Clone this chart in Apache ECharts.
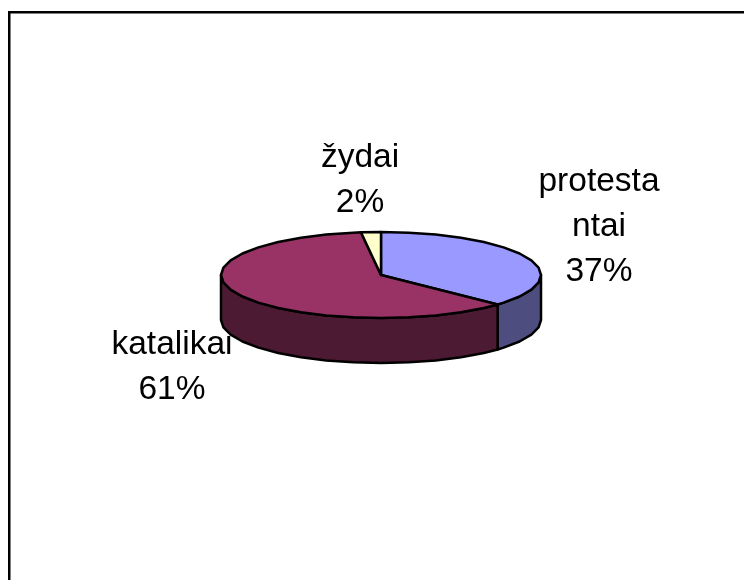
<!DOCTYPE html>
<html>
<head>
<meta charset="utf-8">
<style>
    html, body { margin: 0; padding: 0; background: #fff; }
    #chart { width: 744px; height: 580px; }
</style>
<script src="https://cdn.jsdelivr.net/npm/echarts@6/dist/echarts.min.js"></script>
</head>
<body>
<div id="chart"></div>
<script>
const names = ['protesta\nntai', 'katalikai', 'žydai'];
const values = [37, 61, 2];
const topColors = ['#9999FF', '#993366', '#FFFFCC'];
const sideColors = ['#4D4D80', '#4D1A33', '#808066'];

// pie geometry, tilted like the old office 3d pie
const pie = { cx: 381, cy: 275, rx: 160, ry: 43, depth: 45, step: 10 };
const labelCenters = [[599, 227], [172, 367], [360, 180]];

const total = values.reduce((a, b) => a + b, 0);
const startAngles = [];
values.reduce((sum, v, i) => {
    startAngles[i] = sum / total * 360;
    return sum + v;
}, 0);

function rimPoint(deg, dy) {
    const rad = deg * Math.PI / 180;
    return [pie.cx + pie.rx * Math.sin(rad), pie.cy - pie.ry * Math.cos(rad) + dy];
}

function arc(from, to, dy) {
    const pts = [rimPoint(from, dy)];
    let a = (Math.floor(from / pie.step) + 1) * pie.step;
    for (; a < to; a += pie.step) {
        pts.push(rimPoint(a, dy));
    }
    pts.push(rimPoint(to, dy));
    return pts;
}

function renderSlice(params, api) {
    const i = params.dataIndex;
    const from = startAngles[i];
    const to = from + api.value(1) / total * 360;
    const children = [];

    // only the front half of the rim shows its side
    const sideFrom = Math.max(from, 90);
    const sideTo = Math.min(to, 270);
    if (sideFrom < sideTo) {
        children.push({
            type: 'polygon',
            z2: 1,
            shape: { points: arc(sideFrom, sideTo, 0).concat(arc(sideFrom, sideTo, pie.depth).reverse()) },
            style: { fill: sideColors[i], stroke: '#000', lineWidth: 2.5, lineJoin: 'round' }
        });
    }
    children.push({
        type: 'polygon',
        z2: 2,
        shape: { points: [[pie.cx, pie.cy]].concat(arc(from, to, 0)) },
        style: { fill: topColors[i], stroke: '#000', lineWidth: 2.5, lineJoin: 'round' }
    });
    return { type: 'group', children };
}

function renderLabel(params, api) {
    const i = params.dataIndex;
    const percent = Math.round(api.value(1) / total * 100);
    return {
        type: 'text',
        style: {
            text: names[i] + '\n' + percent + '%',
            x: labelCenters[i][0],
            y: labelCenters[i][1],
            align: 'center',
            verticalAlign: 'middle',
            fontFamily: '"Liberation Sans", Arial, sans-serif',
            fontSize: 33.5,
            lineHeight: 45,
            fill: '#000'
        }
    };
}

const seriesData = values.map((v, i) => [i, v]);

const myChart = echarts.init(document.getElementById('chart'), null, { renderer: 'canvas' });
myChart.setOption({
    animation: false,
    backgroundColor: '#fff',
    graphic: [{
        type: 'rect',
        silent: true,
        shape: { x: 9.25, y: 12.25, width: 760, height: 600 },
        style: { fill: 'none', stroke: '#000', lineWidth: 2.5 }
    }],
    series: [{
        type: 'custom',
        coordinateSystem: 'none',
        z: 1,
        silent: true,
        data: seriesData,
        renderItem: renderLabel
    }, {
        type: 'custom',
        coordinateSystem: 'none',
        z: 2,
        silent: true,
        data: seriesData,
        renderItem: renderSlice
    }]
});
</script>
</body>
</html>
